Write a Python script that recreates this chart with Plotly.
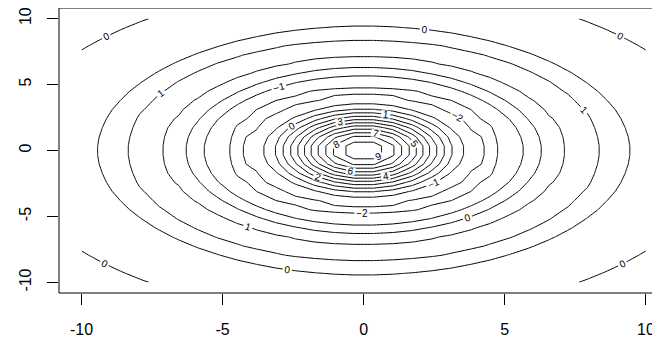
import numpy as np
import plotly.graph_objects as go

# Grid: 30 x 30 sample of the surface z = 10*sin(r)/r on [-10, 10]^2
x_vals = np.linspace(-10, 10, 30)
y_vals = np.linspace(-10, 10, 30)
X, Y = np.meshgrid(x_vals, y_vals)
R = np.sqrt(X**2 + Y**2)
z_vals = 10 * np.sin(R) / R

levels_start, levels_end, levels_step = -2, 9, 1
x_ticks = [-10, -5, 0, 5, 10]
y_ticks = [-10, -5, 0, 5, 10]
tick_text = ["-10", "-5", "0", "5", "10"]

fig = go.Figure(go.Contour(
    x=x_vals, y=y_vals, z=z_vals,
    contours=dict(start=levels_start, end=levels_end, size=levels_step,
                  coloring="lines", showlabels=True,
                  labelfont=dict(size=10, color="black", family="Liberation Sans")),
    colorscale=[[0, "black"], [1, "black"]],
    line=dict(width=1, smoothing=0),
    showscale=False,
    hoverinfo="skip",
))

fig.update_layout(
    width=652, height=329,
    margin=dict(l=51, r=0, t=0, b=44),
    paper_bgcolor="white", plot_bgcolor="white",
    font=dict(family="Liberation Sans", size=16, color="black"),
    showlegend=False,
    xaxis=dict(range=[-10.8, 10.5], tickvals=x_ticks, ticktext=tick_text,
               ticks="outside", ticklen=11, automargin=False,
               tickcolor="black", showgrid=False, zeroline=False, showline=False,
               ticklabelstandoff=11, ticklabeloverflow="allow"),
    yaxis=dict(range=[-10.8, 10.8], tickvals=y_ticks, ticktext=tick_text,
               ticks="outside", ticklen=11, automargin=False,
               tickcolor="black", showgrid=False, zeroline=False, showline=False,
               tickangle=-90, ticklabelstandoff=10, ticklabeloverflow="allow"),
    shapes=[dict(type="rect", xref="paper", yref="paper", x0=0, x1=1.1, y0=0, y1=1,
                 line=dict(color="black", width=1), layer="above")],
)

fig.write_html("out.html")
